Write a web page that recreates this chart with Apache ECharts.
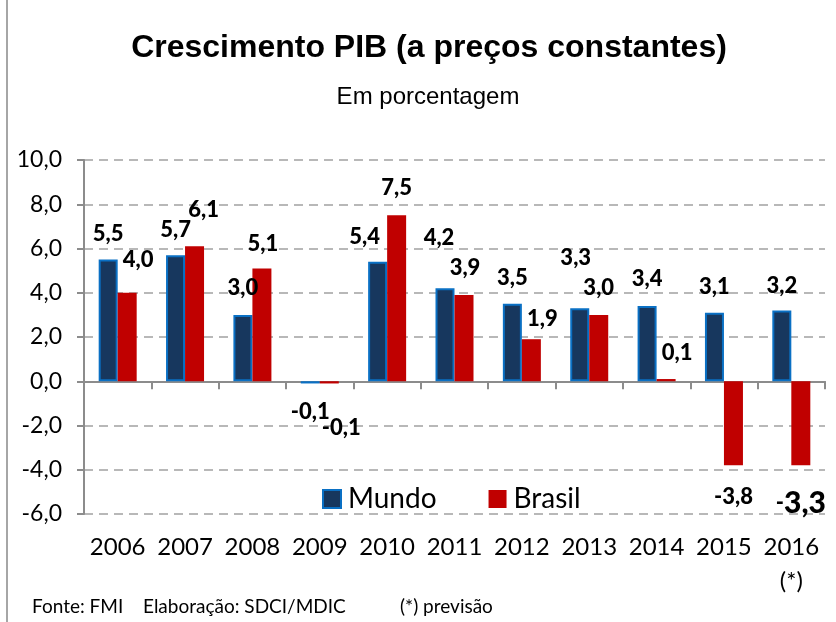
<!DOCTYPE html>
<html>
<head>
<meta charset="utf-8">
<script src="https://cdn.jsdelivr.net/npm/echarts@6/dist/echarts.min.js"></script>
<style>
  html, body { margin: 0; padding: 0; background: #fff; }
  #grafico { width: 836px; height: 622px; }
</style>
</head>
<body>
<div id="grafico"></div>
<script>
// dados
var anos = ['2006', '2007', '2008', '2009', '2010', '2011', '2012', '2013', '2014', '2015', '2016'];
var mundo = [5.5, 5.7, 3.0, -0.1, 5.4, 4.2, 3.5, 3.3, 3.4, 3.1, 3.2];
var brasil = [4.0, 6.1, 5.1, -0.1, 7.5, 3.9, 1.9, 3.0, 0.1, -3.8, -3.8];
var previsaoBrasil2016 = -3.3; // rotulo do grafico original
var eixoY = [-6, -4, -2, 0, 2, 4, 6, 8, 10];

// deslocamento dos rotulos (ajustado a mao, como no original)
var deslocMundo = [[0,-26],[0,-25],[0,-27],[0,31],[-13,-25],[-6,-50],[0,-26],[-4,-50],[0,-27],[0,-26],[0,-25]];
var deslocBrasil = [[11,-33],[9,-36],[1,-25],[12,47],[0,-27],[1,-27],[11,-20],[0,-27],[11,-26],[0,116],[0,122]];

var fonte = 'Lato, "Open Sans", sans-serif';

function virgula(v) {
    return v.toFixed(1).replace('.', ',');
}

function montaDados(valores, desloc, ultimo) {
    return valores.map(function (v, i) {
        var item = {
            value: v,
            label: { offset: desloc[i] }
        };
        if (ultimo && i === valores.length - 1) {
            item.label.formatter = '{p|-}{g|' + virgula(Math.abs(previsaoBrasil2016)) + '}';
        }
        return item;
    });
}

var rotulo = {
    show: true,
    position: 'top',
    distance: 0,
    align: 'center',
    verticalAlign: 'middle',
    color: '#000',
    fontFamily: fonte,
    fontWeight: 900,
    fontSize: 22,
    formatter: function (p) { return virgula(p.value); },
    rich: {
        p: { fontFamily: fonte, fontWeight: 900, fontSize: 22, color: '#000' },
        g: { fontFamily: fonte, fontWeight: 900, fontSize: 30, color: '#000' }
    }
};

var chart = echarts.init(document.getElementById('grafico'), null, { renderer: 'canvas' });

chart.setOption({
    backgroundColor: '#fff',
    animation: false,
    title: [
        {
            text: 'Crescimento PIB (a preços constantes)',
            left: 429, top: 32, textAlign: 'center', padding: 0,
            textStyle: { fontFamily: '"Liberation Sans", Arial, sans-serif', fontWeight: 'bold', fontSize: 32, color: '#000' }
        },
        {
            text: 'Em porcentagem',
            left: 428, top: 85, textAlign: 'center', padding: 0,
            textStyle: { fontFamily: '"Liberation Sans", Arial, sans-serif', fontWeight: 'normal', fontSize: 24, color: '#000' }
        }
    ],
    legend: {
        left: 322, top: 485,
        padding: 0,
        itemWidth: 18, itemHeight: 18,
        itemGap: 52,
        icon: 'rect',
        selectedMode: false,
        textStyle: { fontFamily: fonte, fontSize: 28, color: '#000', padding: [0, 0, 0, 2] },
        data: ['Mundo', 'Brasil']
    },
    grid: {
        left: 84, right: 11, top: 160, bottom: 108,
        containLabel: false,
        outerBoundsMode: 'none'
    },
    xAxis: [
        {
            type: 'category',
            data: anos,
            axisLine: { onZero: true, lineStyle: { color: '#8c8c8c', width: 2 } },
            axisTick: { show: true, length: 8, lineStyle: { color: '#8c8c8c', width: 2 } },
            axisLabel: { show: false },
            splitLine: { show: false }
        },
        {
            type: 'category',
            data: anos,
            position: 'bottom',
            axisLine: { show: false },
            axisTick: { show: false },
            axisLabel: {
                margin: 16,
                lineHeight: 34,
                fontFamily: fonte,
                fontSize: 24,
                color: '#000',
                interval: 0,
                formatter: function (v, i) {
                    return i === anos.length - 1 ? v + '\n(*)' : v;
                }
            }
        }
    ],
    yAxis: {
        type: 'value',
        min: eixoY[0],
        max: eixoY[eixoY.length - 1],
        interval: 2,
        axisLine: { show: true, lineStyle: { color: '#8c8c8c', width: 2 } },
        axisTick: { show: true, length: 7, lineStyle: { color: '#8c8c8c', width: 2 } },
        axisLabel: {
            margin: 22,
            fontFamily: fonte,
            fontSize: 23,
            color: '#000',
            formatter: function (v) { return virgula(v); }
        },
        splitLine: { show: true, lineStyle: { color: '#b8b8b8', width: 2, type: [9, 6] } }
    },
    series: [
        {
            name: 'Mundo',
            type: 'bar',
            xAxisIndex: 0,
            barWidth: 19,
            barGap: '0%',
            itemStyle: { color: '#17375E', borderColor: '#0A70C4', borderWidth: 2 },
            label: rotulo,
            data: montaDados(mundo, deslocMundo, false)
        },
        {
            name: 'Brasil',
            type: 'bar',
            xAxisIndex: 0,
            barWidth: 19,
            barGap: '0%',
            itemStyle: { color: '#C00000' },
            label: rotulo,
            data: montaDados(brasil, deslocBrasil, true)
        }
    ],
    graphic: [
        {
            type: 'line',
            shape: { x1: 7, y1: 0, x2: 7, y2: 622 },
            style: { stroke: '#a6a6a6', lineWidth: 2 }
        },
        {
            type: 'text', left: 32, top: 597,
            style: { text: 'Fonte: FMI', fontFamily: fonte, fontSize: 19, fill: '#000' }
        },
        {
            type: 'text', left: 143, top: 597,
            style: { text: 'Elaboração: SDCI/MDIC', fontFamily: fonte, fontSize: 19, fill: '#000' }
        },
        {
            type: 'text', left: 400, top: 597,
            style: { text: '(*) previsão', fontFamily: fonte, fontSize: 19, fill: '#000' }
        }
    ]
});
</script>
</body>
</html>
